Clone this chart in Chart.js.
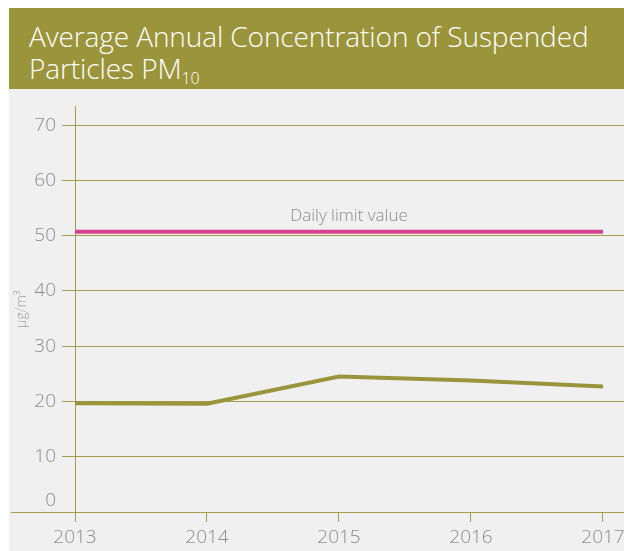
<!DOCTYPE html>
<html>
<head>
<meta charset="utf-8">
<script src="https://cdn.jsdelivr.net/npm/chart.js@4/dist/chart.umd.min.js"></script>
<style>
  html, body { margin: 0; padding: 0; background: #ffffff; }
  body { width: 624px; height: 551px; position: relative; overflow: hidden; font-family: "Open Sans", "Lato", sans-serif; }
  .banner {
    position: absolute; left: 9px; top: 8px; width: 615px; height: 81px;
    background: #9a943b; color: #ffffff; box-sizing: border-box;
    padding: 12px 0 0 20px; font-size: 28px; font-weight: 300; line-height: 32px; letter-spacing: -0.1px;
  }
  .banner sub { font-size: 16px; vertical-align: baseline; position: relative; top: 5px; }
  .panel { position: absolute; left: 9px; top: 89px; width: 615px; height: 462px; background: #eff0ef; }
  #chart { position: absolute; left: 0; top: 0; }
</style>
</head>
<body>
<div class="banner">Average Annual Concentration of Suspended<br>Particles PM<sub>10</sub></div>
<div class="panel"><canvas id="chart" width="615" height="462"></canvas></div>
<script>
// Annual mean PM10 concentration (µg/m³) per year
const years = [2013, 2014, 2015, 2016, 2017];
const pm10 = [19.7, 19.6, 24.5, 23.8, 22.7];
// Daily limit value drawn as a flat reference line
const limitValue = 50.7;
const limitLabel = 'Daily limit value';
const yTicks = [0, 10, 20, 30, 40, 50, 60, 70];

const olive = '#9a943b';
const gridOlive = '#a49e48';
const pink = '#d6428f';
const labelGrey = '#8c8c8c';
const fontFamily = '"Open Sans", "Lato", sans-serif';

const limitPlugin = {
  id: 'extras',
  afterDraw(chart) {
    const { ctx, chartArea, scales } = chart;
    const xs = scales.x, ys = scales.y;
    ctx.save();
    // baseline running under the whole panel
    ctx.strokeStyle = gridOlive;
    ctx.lineWidth = 1;
    const yb = Math.round(ys.getPixelForValue(0)) + 0.5;
    ctx.beginPath();
    ctx.moveTo(2, yb);
    ctx.lineTo(chartArea.right, yb);
    ctx.stroke();
    // limit label
    const cx = (xs.getPixelForValue(years[0]) + xs.getPixelForValue(years[years.length - 1])) / 2 + 10;
    ctx.fillStyle = labelGrey;
    ctx.font = '300 17px ' + fontFamily;
    ctx.textAlign = 'center';
    ctx.textBaseline = 'alphabetic';
    ctx.fillText(limitLabel, cx, ys.getPixelForValue(limitValue) - 11);
    ctx.restore();
  }
};

new Chart(document.getElementById('chart'), {
  type: 'line',
  data: {
    datasets: [
      {
        label: 'PM10',
        data: years.map((y, i) => ({ x: y, y: pm10[i] })),
        borderColor: olive,
        borderWidth: 4,
        pointRadius: 0,
        tension: 0,
        order: 1
      },
      {
        label: limitLabel,
        data: years.map(y => ({ x: y, y: limitValue })),
        borderColor: pink,
        borderWidth: 4,
        pointRadius: 0,
        tension: 0,
        order: 2
      }
    ]
  },
  options: {
    responsive: false,
    animation: false,
    layout: { padding: { top: 16, right: 0, left: 0, bottom: 0 } },
    plugins: { legend: { display: false }, tooltip: { enabled: false } },
    scales: {
      x: {
        type: 'linear',
        min: 2013,
        max: 2013 + 549 / 132,
        afterFit(scale) {
          scale.height = 39;
          // let the last year label run off the panel edge
          scale.paddingLeft = 0;
          scale.paddingRight = 0;
        },
        afterBuildTicks(scale) { scale.ticks = years.map(v => ({ value: v })); },
        border: { display: false },
        grid: { drawOnChartArea: false, drawTicks: true, tickLength: 10, color: gridOlive, lineWidth: 1 },
        ticks: {
          color: labelGrey,
          padding: 4,
          maxRotation: 0,
          autoSkip: false,
          font: { family: fontFamily, size: 19, weight: 300 },
          callback: v => String(v)
        }
      },
      y: {
        min: 0,
        max: 73.4,
        afterFit(scale) { scale.width = 66; },
        afterBuildTicks(scale) { scale.ticks = yTicks.map(v => ({ value: v })); },
        border: { display: true, color: gridOlive, width: 1 },
        grid: { color: gridOlive, lineWidth: 1, tickLength: 13, drawTicks: true },
        title: {
          display: true,
          text: 'µg/m³',
          color: '#a0a0a0',
          padding: { top: 5, bottom: 0 },
          font: { family: fontFamily, size: 14, weight: 300 }
        },
        ticks: {
          color: labelGrey,
          padding: 6,
          font: { family: fontFamily, size: 19, weight: 300 },
          // the zero label sits just above the baseline
          callback: v => (v === 0 ? ['0', ''] : String(v))
        }
      }
    }
  },
  plugins: [limitPlugin]
});
</script>
</body>
</html>
